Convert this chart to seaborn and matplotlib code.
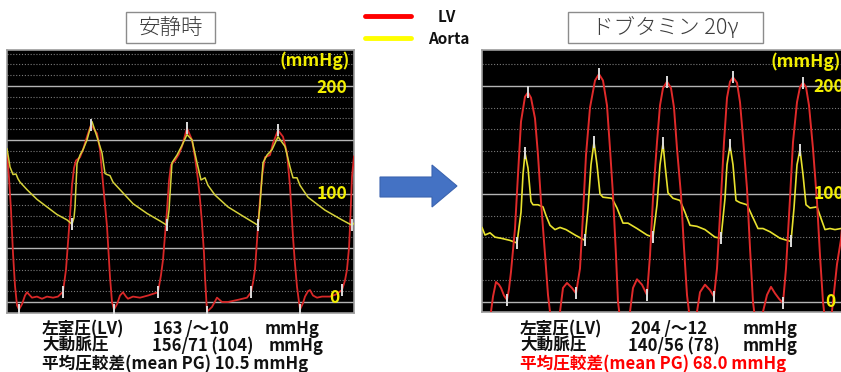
import numpy as np
import matplotlib
matplotlib.use("Agg")
import matplotlib.pyplot as plt
import seaborn as sns
from matplotlib.lines import Line2D
from matplotlib.patches import Rectangle, Polygon

# Traces (time in px along the strip, pressure in mmHg)
t_rest_lv = [7, 9, 11, 13, 15, 17, 19, 22, 25, 27, 30, 32, 37, 42, 47, 53, 58, 63, 66, 68, 70, 72, 74, 76,
             80, 83, 87, 91, 97, 100, 103, 105, 107, 110, 112, 114, 117, 120, 123, 126, 128, 133, 140, 148,
             158, 161, 163, 165, 167, 169, 171, 175, 179, 182, 187, 192, 195, 198, 200, 202, 204, 205, 207,
             212, 217, 222, 228, 238, 247, 251, 253, 255, 258, 260, 262, 265, 270, 273, 278, 283, 287, 290,
             293, 295, 297, 300, 303, 305, 308, 310, 313, 317, 322, 330, 336, 342, 345, 347, 349, 350, 352, 354]
p_rest_lv = [138, 115, 85, 45, 15, -3, -7, -2, 6, 9, 6, 4, 5, 3, 5, 4, 5, 9.5, 30, 55, 80, 108, 124, 131,
             134, 141, 153, 164, 156, 141, 110, 90, 70, 23, 0, -7, -2, 6, 9, 5, 3, 5, 4, 6,
             9, 25, 39, 62, 85, 112, 127, 131, 137, 144, 161, 150, 134, 113, 95, 73, 45, 23, -9,
             -4.6, 4, 0, 0, 2, 4, 9, 18, 30, 70, 95, 116, 134, 136, 147, 159, 153, 138, 107,
             60, 35, 14, -7, -1, 5, 10, 11, 6, 4, 5, 5, 7, 11, 20, 30, 50, 70, 116, 135]

t_rest_ao = [7, 10, 13, 16, 18, 20, 27, 37, 47, 57, 67, 72, 74, 75, 77, 80, 83, 87, 92, 97, 102, 105, 107,
             110, 113, 120, 133, 147, 160, 167, 169, 172, 177, 182, 187, 192, 197, 201, 205, 208, 215, 228,
             242, 258, 260, 263, 267, 272, 278, 285, 290, 293, 297, 300, 308, 325, 342, 352, 354]
p_rest_ao = [142, 125, 118, 118.5, 114, 111, 104, 95, 88, 81, 76, 72, 78, 88, 128, 136, 141, 150, 167, 153, 138, 119, 118,
             117, 111, 104, 91, 82, 75, 71, 85, 129, 136, 145, 155, 150, 129, 113, 115, 108, 99, 88,
             80, 71, 90, 129, 136, 141, 153, 144, 125, 115, 115, 108, 97, 85, 76, 71, 73]

t_dob_lv = [484, 488, 491, 493, 496, 499, 501, 504, 507, 509, 511, 513, 515, 518, 521, 525, 528, 531, 535, 538,
            541, 545, 548, 550, 553, 556, 560, 563, 567, 572, 576, 580, 583, 586, 590, 595, 599, 603, 607, 610,
            613, 616, 618, 620, 624, 628, 630, 633, 637, 642, 647, 650, 653, 657, 660, 663, 667, 671, 674, 677,
            681, 684, 687, 689, 693, 697, 700, 705, 710, 714, 717, 721, 724, 727, 730, 733, 737, 740, 743, 747,
            750, 753, 755, 759, 763, 767, 771, 775, 779, 783, 786, 790, 793, 797, 800, 803, 806, 809, 813, 817,
            820, 823, 826, 830, 833, 837, 841, 845, 851]
p_dob_lv = [-35, -20, -9, 5, 18.5, 16, 13, 6, 2, 12, 28, 48, 68, 118, 167, 190, 194, 189, 170, 136,
            93, 44, 6.5, -9, -30, -30, -9, 13, 17.6, 13, 8, 31, 81, 136, 180, 205, 211, 205, 182, 142,
            99, 43, 0, -15, -32, -20, -9, 13, 21, 16, 6.5, 43, 96, 148, 182, 198, 204, 198, 180, 142,
            99, 50, 6.5, -9, -32, -9, 9, 16, 11, 5, 31, 97, 148, 189, 204, 208, 203, 185, 152, 105,
            50, 0, -15, -32, -9, 6.5, 14, 8, 3, -1, 31, 96, 148, 185, 199, 203, 199, 182, 142, 93,
            43, 0, -25, -25, 0, 35, 58, 100, 170]

t_dob_ao = [482, 485, 490, 495, 501, 510, 517, 521, 523, 525, 528, 531, 533, 538, 543, 546, 550, 555, 560, 566,
            575, 585, 588, 591, 594, 597, 600, 603, 612, 617, 623, 628, 637, 647, 653, 657, 660, 663, 665, 668,
            673, 680, 685, 690, 697, 705, 715, 721, 725, 727, 730, 733, 736, 740, 747, 752, 758, 763, 770, 780,
            791, 794, 797, 800, 803, 806, 810, 817, 820, 825, 830, 835, 841, 851]
p_dob_ao = [69, 62, 64, 60, 59, 57, 54.6, 83, 118, 138, 124, 93, 90, 90, 88, 80, 71, 67, 69, 67,
            62, 57, 87, 127, 148, 127, 100, 97, 96, 87, 73, 73, 68, 62, 60, 90, 127, 147, 127, 101,
            96, 94, 83, 71, 70, 67, 60, 59, 96, 127, 145, 127, 94, 92, 90, 80, 68, 68, 65, 59,
            56, 87, 127, 141, 118, 90, 87, 88, 80, 67, 68, 67, 68, 66]

# beat markers (white ticks) placed on the traces
mark_rest_lv = [19, 63, 91, 114, 158, 187, 207, 251, 278, 300, 342]
mark_rest_ao = [72, 167, 258, 352]
mark_dob_lv = [507, 528, 576, 599, 647, 667, 714, 733, 783, 803]
mark_dob_ao = [517, 525, 585, 594, 653, 663, 721, 730, 791, 800]

W, H = 841, 372
sns.set_theme(style="white")
plt.rcParams['font.family'] = ['Noto Sans CJK JP', 'DejaVu Sans']

fig = plt.figure(figsize=(W / 100, H / 100), dpi=100)
fig.patch.set_facecolor("white")


def fx(x):
    return x / W


def fy(y):
    return 1 - y / H


def make_panel(rect, xlim, ylim, solid, dotted):
    x0, y0, x1, y1 = rect
    ax = fig.add_axes([fx(x0), fy(y1), (x1 - x0) / W, (y1 - y0) / H])
    ax.set_facecolor("black")
    for v in dotted:
        ax.axhline(v, color="#7a7a7a", lw=0.8, ls=(0, (1, 1.6)), zorder=1)
    for v in solid:
        ax.axhline(v, color="#b4b4b4", lw=1.0, zorder=1)
    ax.set_xlim(*xlim)
    ax.set_ylim(*ylim)
    ax.set_xticks([])
    ax.set_yticks([])
    ax.set_xlabel("")
    ax.set_ylabel("")
    for s in ax.spines.values():
        s.set_color("#9c9c9c")
        s.set_linewidth(1.2)
    return ax


def ticks(ax, t, p, times):
    ax.plot(times, np.interp(times, t, p), ls="none", marker="|", ms=8, mew=1.4,
            color="#dcdcdc", zorder=5)


# left panel (rest)
axl = make_panel((7, 50, 354, 313), (7, 354), (-10.2, 233.3),
                 [0, 50, 100, 150, 200],
                 [v for v in range(10, 231, 10) if v % 50])
sns.lineplot(x=t_rest_lv, y=p_rest_lv, ax=axl, color="#d82828", lw=1.3, estimator=None, sort=False, zorder=3)
sns.lineplot(x=t_rest_ao, y=p_rest_ao, ax=axl, color="#d6d23a", lw=1.1, estimator=None, sort=False, zorder=4)
ticks(axl, t_rest_lv, p_rest_lv, mark_rest_lv)
ticks(axl, t_rest_ao, p_rest_ao, mark_rest_ao)

# right panel (dobutamine)
axr = make_panel((482, 50, 851, 312), (482, 851), (-9.3, 233.3),
                 [0, 100, 200],
                 [v for v in range(20, 221, 20) if v % 100])
sns.lineplot(x=t_dob_ao, y=p_dob_ao, ax=axr, color="#e8e22e", lw=1.2, estimator=None, sort=False, zorder=3)
sns.lineplot(x=t_dob_lv, y=p_dob_lv, ax=axr, color="#e02a2a", lw=1.4, estimator=None, sort=False, zorder=4)
ticks(axr, t_dob_lv, p_dob_lv, mark_dob_lv)
ticks(axr, t_dob_ao, p_dob_ao, mark_dob_ao)

# in-panel scale labels (the right strip is cut by the picture edge, as in the source)
ylab = dict(color="#f2ee00", fontsize=12.5, fontweight="bold", va="center")
fig.text(fx(350), fy(61), "(mmHg)", ha="right", **ylab)
fig.text(fx(332), fy(88), "200", ha="center", **ylab)
fig.text(fx(332), fy(194), "100", ha="center", **ylab)
fig.text(fx(334), fy(298), "0", ha="center", **ylab)
fig.text(fx(806), fy(62), "(mmHg)", ha="center", **ylab)
fig.text(fx(829), fy(87), "200", ha="center", **ylab)
fig.text(fx(829), fy(194), "100", ha="center", **ylab)
fig.text(fx(830), fy(302), "0", ha="center", **ylab)

# title boxes
for (x0, x1, label) in [(126, 215, "安静時"), (568, 763, "ドブタミン 20γ")]:
    fig.add_artist(Rectangle((fx(x0), fy(43)), (x1 - x0) / W, 31 / H, transform=fig.transFigure,
                             fill=False, ec="#8c8c8c", lw=1.0))
    fig.text(fx((x0 + x1) / 2), fy(27.5), label, ha="center", va="center",
             fontsize=15.5, fontweight="light", color="#3c3c3c")

# legend
fig.add_artist(Line2D([fx(365), fx(411)], [fy(15.5)] * 2, color="#ff0000", lw=3.5, transform=fig.transFigure))
fig.add_artist(Line2D([fx(365), fx(411)], [fy(37.5)] * 2, color="#ffff00", lw=3.5, transform=fig.transFigure))
fig.text(fx(447), fy(17.5), "LV", ha="center", va="center", fontsize=11, fontweight="bold", color="#111111")
fig.text(fx(449), fy(38.5), "Aorta", ha="center", va="center", fontsize=11, fontweight="bold", color="#111111")

# arrow
arrow = [(380, 177), (432, 177), (432, 165), (457, 186), (432, 207), (432, 197), (380, 197)]
fig.add_artist(Polygon([(fx(x), fy(y)) for x, y in arrow], closed=True, transform=fig.transFigure,
                       fc="#4472c4", ec="#3b64b0", lw=0.8))

# measurement text
txt = dict(fontsize=12, fontweight="bold", va="center", ha="left", color="#111111")
fig.text(fx(42), fy(329), "左室圧(LV)", **txt)
fig.text(fx(153), fy(329), "163 /～10", **txt)
fig.text(fx(265), fy(329), "mmHg", **txt)
fig.text(fx(42), fy(346), "大動脈圧", **txt)
fig.text(fx(152), fy(346), "156/71 (104)", **txt)
fig.text(fx(269), fy(346), "mmHg", **txt)
fig.text(fx(42), fy(364), "平均圧較差(mean PG) 10.5 mmHg", **txt)

fig.text(fx(520), fy(329), "左室圧(LV)", **txt)
fig.text(fx(631), fy(329), "204 /～12", **txt)
fig.text(fx(743), fy(329), "mmHg", **txt)
fig.text(fx(520), fy(346), "大動脈圧", **txt)
fig.text(fx(628), fy(346), "140/56 (78)", **txt)
fig.text(fx(743), fy(346), "mmHg", **txt)
txt_red = dict(txt, color="#ff0000")
fig.text(fx(520), fy(364), "平均圧較差(mean PG) 68.0 mmHg", **txt_red)

fig.savefig("out.png", dpi=100, facecolor="white")
